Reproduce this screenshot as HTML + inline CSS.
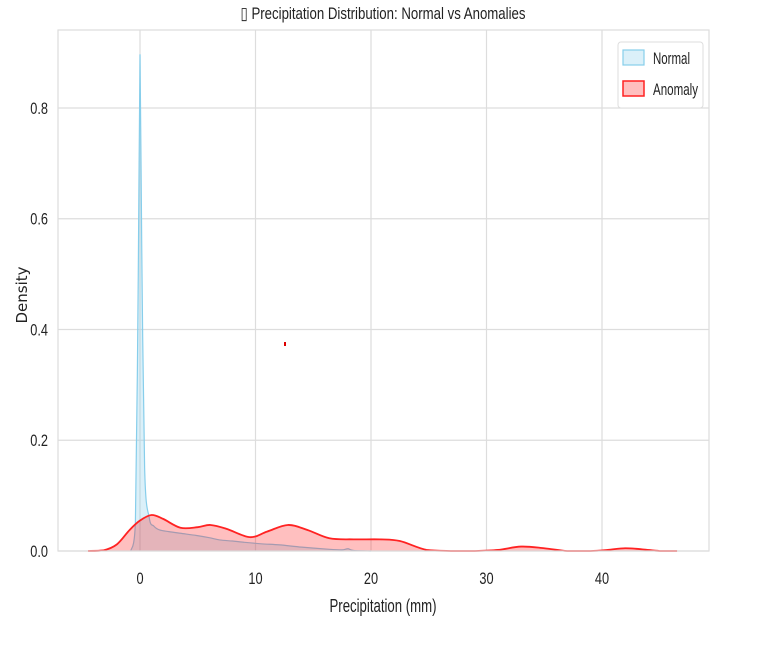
<!DOCTYPE html>
<html><head><meta charset="utf-8"><style>
body{margin:0;background:#fff;width:763px;height:656px;overflow:hidden}
text{font-family:"Liberation Sans",sans-serif}
</style></head><body>
<svg id="chart" width="763" height="656" xmlns="http://www.w3.org/2000/svg">
<text x="383" y="19" text-anchor="middle" font-size="17" fill="#222" textLength="285" lengthAdjust="spacingAndGlyphs">▯ Precipitation Distribution: Normal vs Anomalies</text>
<g id="grid"></g>
<g id="marks"></g>
<rect x="58" y="30" width="651" height="521" fill="none" stroke="#ddd" stroke-width="1.2"/>
<g id="ticks"></g>
<text x="383" y="612" text-anchor="middle" font-size="18" fill="#222" textLength="107" lengthAdjust="spacingAndGlyphs">Precipitation (mm)</text>
<text transform="translate(27,295) rotate(-90)" text-anchor="middle" font-size="15" fill="#222" style="font-family:'DejaVu Sans',sans-serif">Density</text>
<rect x="284" y="342" width="2" height="4" fill="#d00"/>
<g>
<rect x="618" y="42" width="85" height="66" rx="3" fill="#fff" stroke="#ddd"/>
<rect x="623" y="50" width="21" height="15" fill="rgba(135,206,235,0.3)" stroke="#87ceeb" stroke-width="1.2"/>
<text x="653" y="64" font-size="17" fill="#222" textLength="37" lengthAdjust="spacingAndGlyphs">Normal</text>
<rect x="623" y="81" width="21" height="15" fill="rgba(255,0,0,0.25)" stroke="#f22" stroke-width="1.5"/>
<text x="653" y="95" font-size="17" fill="#222" textLength="45" lengthAdjust="spacingAndGlyphs">Anomaly</text>
</g>
</svg>
<script>
const xTicks=[0,10,20,30,40];
const yTicks=[0.0,0.2,0.4,0.6,0.8];
const anomalyX=[-4.5,-3.2,-2,-0.9,0,1,2,3.5,5,6.1,7.5,9.5,11,12.8,14.5,16.4,18.5,20.8,22.5,24.8,27,29,31,33,35,37,39,40.5,42,43.5,45,46.5];
const anomalyY=[0,0.001,0.012,0.038,0.055,0.065,0.058,0.042,0.043,0.047,0.04,0.025,0.035,0.047,0.038,0.023,0.021,0.021,0.018,0.002,0,0,0.002,0.008,0.005,0,0,0.002,0.005,0.003,0,0];
const normalX=[-0.8,-0.4,-0.15,0,0.15,0.4,0.8,1.2,1.7,2.5,3.5,4.9,6,6.9,8,8.9,10.5,12.1,14,16.4,17.5,18,18.5,20];
const normalY=[0,0.05,0.5,0.896,0.55,0.15,0.06,0.045,0.038,0.035,0.032,0.028,0.024,0.02,0.018,0.016,0.013,0.011,0.007,0.003,0.002,0.004,0.001,0];
const sx=v=>140+v*11.55;
const sy=v=>551-v*553.75;
const NS="http://www.w3.org/2000/svg";
function mk(tag,attrs,parent){const e=document.createElementNS(NS,tag);for(const k in attrs)e.setAttribute(k,attrs[k]);parent.appendChild(e);return e;}
const grid=document.getElementById('grid'),ticks=document.getElementById('ticks'),marks=document.getElementById('marks');
xTicks.forEach(t=>{
 const l=mk('line',{x1:sx(t),x2:sx(t),y1:30,y2:551,stroke:'#ddd','stroke-width':1.2},grid);
 
 
 const tx=mk('text',{x:sx(t),y:584,'text-anchor':'middle','font-size':17,fill:'#222',transform:`translate(${sx(t)},0) scale(0.75,1) translate(${-sx(t)},0)`},ticks);
 tx.textContent=t;
 
 
});
yTicks.forEach(t=>{
 const l=mk('line',{x1:58,x2:709,y1:sy(t),y2:sy(t),stroke:'#ddd','stroke-width':1.2},grid);
 
 
 const tx=mk('text',{x:48,y:sy(t)+6,'text-anchor':'end','font-size':17,fill:'#222',transform:'translate(48,0) scale(0.75,1) translate(-48,0)'},ticks);
 tx.textContent=t.toFixed(1);
 
 
});
function smooth(xs,ys){
 const p=xs.map((x,i)=>[sx(x),Math.min(sy(0),sy(ys[i]))]);
 let d='M'+p[0][0]+','+p[0][1];
 for(let i=0;i<p.length-1;i++){
  const p0=p[i-1]||p[i],p1=p[i],p2=p[i+1],p3=p[i+2]||p2;
  let c1y=p1[1]+(p2[1]-p0[1])/6,c2y=p2[1]-(p3[1]-p1[1])/6;
  c1y=Math.min(c1y,551);c2y=Math.min(c2y,551);
  d+=` C${p1[0]+(p2[0]-p0[0])/6},${c1y} ${p2[0]-(p3[0]-p1[0])/6},${c2y} ${p2[0]},${p2[1]}`;
 }
 return {d,first:p[0][0],last:p[p.length-1][0]};
}
const n=smooth(normalX,normalY);
const nf=mk('path',{d:n.d+` L${n.last},551 L${n.first},551 Z`,fill:'rgba(135,206,235,0.3)',stroke:'none'},marks);


const nl=mk('path',{d:n.d,fill:'none',stroke:'#87ceeb','stroke-width':1.2},marks);


const a=smooth(anomalyX,anomalyY);
const af=mk('path',{d:a.d+` L${a.last},551 L${a.first},551 Z`,fill:'rgba(255,0,0,0.25)',stroke:'none'},marks);


const al=mk('path',{d:a.d,fill:'none',stroke:'#f22','stroke-width':1.8},marks);


</script>
</body></html>
